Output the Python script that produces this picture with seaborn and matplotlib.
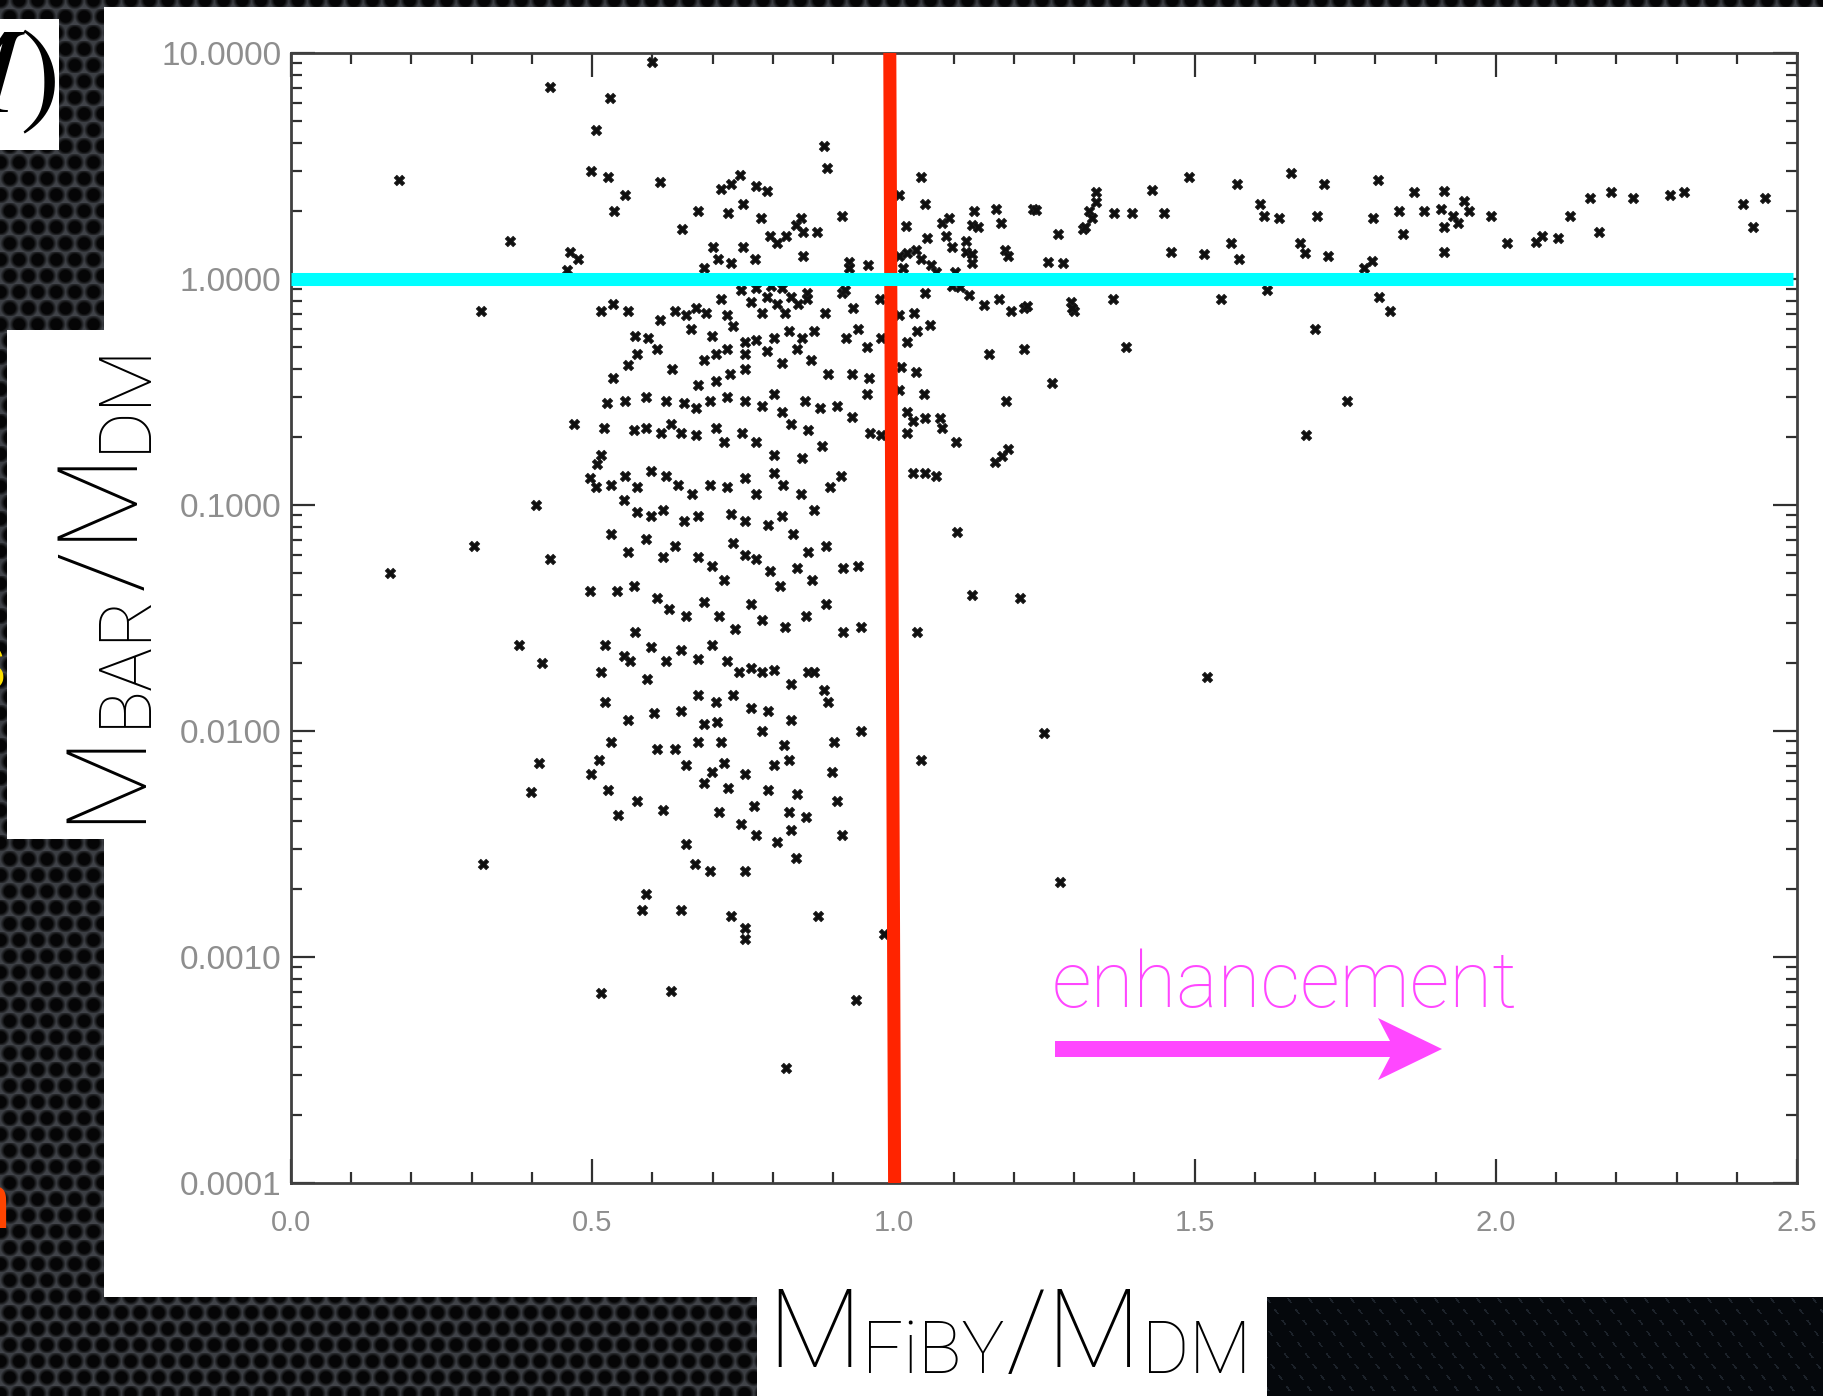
import numpy as np
import matplotlib
matplotlib.use("Agg")
import matplotlib.pyplot as plt
import seaborn as sns
import pandas as pd
from matplotlib.patches import Rectangle, Polygon
from matplotlib.ticker import MultipleLocator, LogLocator, FuncFormatter, NullFormatter

W, H, DPI = 1823, 1396, 100

# (M_FiBY/M_DM, log10 M_BAR/M_DM) for each halo
branch_high_left = [
    (0.18, 0.44), (0.43, 0.85), (0.506, 0.66), (0.53, 0.80), (0.60, 0.96), (0.498, 0.48),
    (0.527, 0.45), (0.537, 0.30), (0.554, 0.37), (0.612, 0.43), (0.363, 0.17), (0.463, 0.12),
    (0.477, 0.09), (0.458, 0.04), (0.649, 0.22), (0.676, 0.30), (0.70, 0.14), (0.709, 0.09),
    (0.714, 0.40), (0.73, 0.42), (0.745, 0.46), (0.772, 0.41), (0.79, 0.39), (0.75, 0.33),
    (0.726, 0.29), (0.78, 0.27), (0.795, 0.19), (0.807, 0.16), (0.822, 0.19), (0.838, 0.24),
    (0.75, 0.14), (0.77, 0.09), (0.73, 0.07), (0.685, 0.05),
    (0.884, 0.59), (0.890, 0.49), (0.915, 0.28), (0.846, 0.27), (0.850, 0.21), (0.874, 0.21),
    (0.850, 0.10), (0.927, 0.075), (0.927, 0.05), (0.958, 0.06),
]

branch_high_right = [
    (1.010, 0.37), (1.045, 0.45), (1.052, 0.33), (1.021, 0.235), (1.010, 0.10), (1.023, 0.115),
    (1.016, 0.05), (1.038, 0.13), (1.046, 0.09), (1.055, 0.18), (1.063, 0.06), (1.071, 0.03),
    (1.081, 0.25), (1.093, 0.27), (1.088, 0.19), (1.098, 0.14), (1.121, 0.17), (1.121, 0.12),
    (1.130, 0.11), (1.130, 0.07), (1.133, 0.30), (1.130, 0.24), (1.140, 0.23), (1.103, 0.03),
    (1.171, 0.31), (1.178, 0.25), (1.186, 0.13), (1.191, 0.10), (1.231, 0.31), (1.236, 0.305),
    (1.256, 0.075), (1.282, 0.07), (1.274, 0.20), (1.314, 0.22), (1.318, 0.23), (1.336, 0.385),
    (1.336, 0.34), (1.324, 0.30), (1.33, 0.27),
    (1.367, 0.29), (1.396, 0.29), (1.43, 0.395), (1.45, 0.29), (1.46, 0.12), (1.49, 0.45),
    (1.515, 0.11), (1.57, 0.42), (1.56, 0.16), (1.573, 0.09), (1.608, 0.33), (1.616, 0.28),
    (1.64, 0.27), (1.66, 0.47), (1.675, 0.16),
    (1.714, 0.42), (1.703, 0.28), (1.683, 0.115), (1.721, 0.10), (1.804, 0.44), (1.796, 0.27),
    (1.839, 0.30), (1.846, 0.20), (1.864, 0.385), (1.880, 0.30), (1.914, 0.39), (1.909, 0.31),
    (1.914, 0.23), (1.929, 0.28), (1.937, 0.25), (1.947, 0.345), (1.955, 0.30), (1.914, 0.12),
    (1.992, 0.28), (2.018, 0.16), (2.066, 0.165), (2.076, 0.19), (2.103, 0.18), (2.123, 0.28),
    (2.156, 0.36), (2.191, 0.385), (2.171, 0.21), (2.228, 0.36), (2.289, 0.37), (2.312, 0.385),
    (2.410, 0.33), (2.427, 0.23), (2.447, 0.36), (1.781, 0.05), (1.794, 0.08), (1.806, -0.08),
    (1.824, -0.14),
]

cloud_right = [
    (1.053, -0.06), (1.098, -0.03), (1.11, -0.035), (1.126, -0.07), (1.151, -0.115),
    (1.176, -0.09), (1.196, -0.14), (1.216, -0.13), (1.294, -0.10), (1.30, -0.14),
    (1.010, -0.16), (1.035, -0.15),
    (1.106, -1.12), (1.168, -0.81), (1.18, -0.785), (1.19, -0.75), (1.104, -0.72), (1.033, -0.86),
    (1.052, -0.86), (1.07, -0.87), (1.023, -0.68), (1.052, -0.615), (1.077, -0.615), (1.08, -0.66),
    (1.158, -0.33), (1.187, -0.54), (1.216, -0.31), (1.222, -0.12), (1.264, -0.46), (1.297, -0.13),
    (1.386, -0.30), (1.365, -0.09), (1.544, -0.09), (1.70, -0.22), (1.753, -0.54), (1.685, -0.69),
    (1.62, -0.05), (1.04, -1.56), (1.046, -2.13), (1.13, -1.40), (1.21, -1.41), (1.25, -2.01),
    (1.276, -2.67), (1.52, -1.76), (1.01, -0.49), (1.023, -0.59), (1.013, -0.39), (1.023, -0.28),
    (1.04, -0.23), (1.06, -0.205), (1.037, -0.41), (1.05, -0.51), (1.033, -0.63),
]

cloud_core = [
    (0.857, -0.06), (0.857, -0.09), (0.887, -0.15), (0.915, -0.06), (0.920, -0.05), (0.933, -0.13),
    (0.977, -0.09),
    (0.515, -0.14), (0.535, -0.11), (0.56, -0.14), (0.571, -0.25), (0.593, -0.26), (0.612, -0.18),
    (0.637, -0.14), (0.656, -0.16), (0.664, -0.22), (0.672, -0.13), (0.689, -0.15), (0.699, -0.25),
    (0.714, -0.09), (0.724, -0.16), (0.734, -0.21), (0.747, -0.05), (0.763, -0.10), (0.772, -0.04),
    (0.782, -0.15), (0.79, -0.08), (0.797, -0.03), (0.807, -0.11), (0.815, -0.04), (0.82, -0.15),
    (0.83, -0.08), (0.842, -0.11),
    (0.979, -0.26), (0.956, -0.30), (0.921, -0.26), (0.942, -0.22), (0.869, -0.23), (0.849, -0.26),
    (0.826, -0.23), (0.801, -0.26), (0.772, -0.27), (0.753, -0.28), (0.724, -0.31), (0.705, -0.33),
    (0.685, -0.36), (0.753, -0.33), (0.79, -0.32), (0.815, -0.37), (0.84, -0.31), (0.863, -0.36),
    (0.892, -0.42), (0.932, -0.42), (0.959, -0.44), (0.956, -0.51), (0.753, -0.40), (0.728, -0.42),
    (0.705, -0.45), (0.676, -0.47), (0.633, -0.40), (0.608, -0.31), (0.575, -0.33), (0.56, -0.38),
    (0.535, -0.44), (0.525, -0.55), (0.554, -0.54), (0.589, -0.52), (0.622, -0.54), (0.653, -0.55),
    (0.672, -0.57), (0.695, -0.54), (0.724, -0.52), (0.753, -0.54), (0.782, -0.56), (0.801, -0.51),
    (0.815, -0.59), (0.83, -0.64), (0.859, -0.67), (0.853, -0.54), (0.878, -0.57), (0.907, -0.56),
    (0.932, -0.61), (0.961, -0.68), (0.979, -0.69), (0.882, -0.74), (0.849, -0.79), (0.801, -0.78),
    (0.772, -0.72), (0.749, -0.68), (0.718, -0.72), (0.705, -0.66), (0.672, -0.69), (0.647, -0.68),
    (0.631, -0.64), (0.614, -0.68), (0.589, -0.66), (0.57, -0.67), (0.469, -0.64), (0.52, -0.66),
    (0.515, -0.78), (0.508, -0.82), (0.496, -0.88), (0.506, -0.92), (0.531, -0.91), (0.554, -0.87),
    (0.575, -0.92), (0.598, -0.85), (0.622, -0.87), (0.643, -0.91), (0.666, -0.95), (0.695, -0.91),
    (0.724, -0.92), (0.753, -0.88), (0.772, -0.95), (0.801, -0.86), (0.817, -0.91), (0.846, -0.95),
    (0.869, -1.02), (0.894, -0.92), (0.913, -0.87), (0.552, -0.98), (0.575, -1.03), (0.598, -1.05),
    (0.618, -1.02), (0.653, -1.07), (0.676, -1.05), (0.73, -1.04), (0.753, -1.07), (0.792, -1.09),
    (0.815, -1.05), (0.834, -1.13), (0.859, -1.21), (0.888, -1.18), (0.531, -1.13), (0.56, -1.21),
    (0.589, -1.15), (0.618, -1.23), (0.637, -1.18), (0.676, -1.23), (0.699, -1.27), (0.718, -1.33),
    (0.734, -1.17), (0.753, -1.22), (0.772, -1.24), (0.795, -1.29), (0.811, -1.36), (0.84, -1.28),
    (0.865, -1.33), (0.917, -1.28), (0.942, -1.27), (0.496, -1.38), (0.541, -1.38), (0.57, -1.36),
    (0.608, -1.41), (0.627, -1.46), (0.656, -1.49), (0.685, -1.43), (0.71, -1.49), (0.737, -1.55),
    (0.763, -1.44), (0.782, -1.51), (0.82, -1.54), (0.855, -1.49), (0.888, -1.44), (0.917, -1.56),
    (0.946, -1.54), (0.521, -1.62), (0.552, -1.67), (0.598, -1.63), (0.622, -1.69), (0.647, -1.64),
    (0.676, -1.68), (0.699, -1.62), (0.724, -1.69), (0.743, -1.74), (0.763, -1.72), (0.782, -1.74),
    (0.801, -1.73), (0.83, -1.79), (0.859, -1.74), (0.676, -1.84), (0.705, -1.87), (0.734, -1.84),
    (0.763, -1.90), (0.792, -1.91), (0.83, -1.95), (0.56, -1.95), (0.531, -2.05), (0.608, -2.08),
    (0.656, -2.15), (0.685, -2.23), (0.753, -2.19), (0.792, -2.26), (0.618, -2.35), (0.772, -2.46),
    (0.807, -2.49), (0.83, -2.44),
    (0.869, -1.74), (0.884, -1.82), (0.892, -1.87), (0.902, -2.05), (0.946, -2.0), (0.898, -2.18),
    (0.907, -2.31), (0.875, -2.82), (0.838, -2.56), (0.915, -2.46), (0.753, -2.87), (0.73, -2.82),
    (0.753, -2.92), (0.647, -2.79), (0.583, -2.79), (0.589, -2.72), (0.656, -2.50), (0.67, -2.59),
    (0.753, -2.62), (0.695, -2.62), (0.575, -2.31), (0.542, -2.37), (0.498, -2.19), (0.512, -2.13),
    (0.527, -2.26), (0.521, -1.87), (0.515, -1.74), (0.562, -1.69), (0.571, -1.56), (0.591, -1.77),
    (0.602, -1.92), (0.647, -1.91), (0.637, -2.08), (0.676, -2.05), (0.685, -1.97), (0.707, -1.96),
    (0.699, -2.18), (0.714, -2.05), (0.718, -2.14), (0.726, -2.25), (0.71, -2.36), (0.747, -2.41),
    (0.768, -2.33), (0.782, -2.0), (0.801, -2.15), (0.819, -2.06), (0.826, -2.13), (0.84, -2.28),
    (0.826, -2.36), (0.855, -2.38),
]

outliers = [
    (0.315, -0.14), (0.164, -1.30), (0.303, -1.18), (0.407, -1.00), (0.43, -1.24), (0.378, -1.62),
    (0.417, -1.70), (0.411, -2.14), (0.398, -2.27), (0.318, -2.59), (0.515, -3.16), (0.631, -3.15),
    (0.822, -3.49), (0.938, -3.19), (0.985, -2.90),
]

x_ticks = [0.0, 0.5, 1.0, 1.5, 2.0, 2.5]
y_ticks = [1e-4, 1e-3, 1e-2, 1e-1, 1.0, 10.0]

halos = pd.DataFrame(branch_high_left + branch_high_right + cloud_right + cloud_core + outliers,
                     columns=["fiby_dm", "log_bar_dm"])
halos["bar_dm"] = 10.0 ** halos["log_bar_dm"]

sns.set_theme(style="white")
plt.rcParams["font.family"] = ["Liberation Sans", "DejaVu Sans"]
plt.rcParams["mathtext.fontset"] = "stix"

fig = plt.figure(figsize=(W / DPI, H / DPI), dpi=DPI)
renderer = fig.canvas.get_renderer()


def fx(px):
    return px / W


def fy(py):
    return 1.0 - py / H


# perforated dark backdrop
yy, xx = np.mgrid[0:H, 0:W].astype(float)
sx, sy = 18.6, 16.2
r = np.round(yy / sy)
off = (r % 2) * sx / 2
dx = xx - (np.round((xx - off) / sx) * sx + off)
dy = yy - r * sy
d = np.hypot(dx, dy)
shade = np.clip((d - 5.5) / 4.0, 0, 1)
bg = np.empty((H, W, 3))
g = 6 + 58 * shade + 8 * np.clip(dy / 9.0, 0, 1) * shade
bg[..., 0] = g * 0.93
bg[..., 1] = g * 0.97
bg[..., 2] = g * 1.05
corner = (xx >= 1267) & (yy >= 1297)
streak = (((xx - 0.7 * yy) % 21) < 2.2) & ((yy % 11) < 5)
bg[corner] = [5, 8, 12]
bg[corner & streak] = [28, 34, 42]
fig.figimage(np.clip(bg, 0, 255).astype(np.uint8), 0, 0, zorder=-3, origin="upper")

# slide fragments peeking in at the left edge
fig.text(fx(7), fy(690), "s", color="#ffe100", fontsize=62, fontweight="bold",
         ha="right", va="baseline", zorder=-2.5)
fig.text(fx(11), fy(1228), "n", color="#ff4400", fontsize=56,
         ha="right", va="baseline", zorder=-2.5)

# white panels
for (x0, y0, x1, y1) in [(104, 7, W, 1297), (7, 330, 110, 839), (757, 1290, 1267, H), (0, 19, 59, 150)]:
    fig.add_artist(Rectangle((fx(x0), fy(y1)), (x1 - x0) / W, (y1 - y0) / H,
                             transform=fig.transFigure, facecolor="white",
                             edgecolor="none", zorder=-2))

fig.text(fx(56), fy(112), r"$M)$", fontsize=88, ha="right", va="baseline",
         color="black", zorder=3)

ax = fig.add_axes([fx(291), fy(1183), (1797 - 291) / W, (1183 - 53) / H])
ax.set_facecolor("white")

sns.scatterplot(data=halos, x="fiby_dm", y="bar_dm", marker="X", s=58, color="#101010",
                edgecolor="#202020", linewidth=0.5, legend=False, ax=ax, zorder=2)

ax.set_yscale("log")
ax.set_xlim(0.0, 2.5)
ax.set_ylim(1e-4, 10.0)

ax.plot([0.994, 1.002], [10.0, 1e-4], color="#ff2400", lw=9.4, solid_capstyle="butt", zorder=3)
ax.plot([0.0, 2.493], [1.0, 1.0], color="#00ffff", lw=9.4, solid_capstyle="butt", zorder=4)

ax.set_xticks(x_ticks)
ax.xaxis.set_minor_locator(MultipleLocator(0.1))
ax.xaxis.set_major_formatter(FuncFormatter(lambda v, p: f"{v:.1f}"))
ax.set_yticks(y_ticks)
ax.yaxis.set_minor_locator(LogLocator(base=10, subs=np.arange(2, 10), numticks=30))
ax.yaxis.set_minor_formatter(NullFormatter())
ax.yaxis.set_major_formatter(FuncFormatter(lambda v, p: f"{v:.4f}"))

ax.tick_params(which="both", direction="in", top=True, right=True, bottom=True, left=True,
               color="#303030", width=1.6, labelcolor="#8e8e8e")
ax.tick_params(axis="x", which="major", labelsize=21, pad=19)
ax.tick_params(axis="y", which="major", labelsize=24, pad=7)
ax.tick_params(which="major", length=17)
ax.tick_params(which="minor", length=8)
for s in ax.spines.values():
    s.set_visible(True)
    s.set_linewidth(2.0)
    s.set_color("#404040")
ax.set_xlabel("")
ax.set_ylabel("")

label_font = ["Roboto", "Open Sans", "DejaVu Sans"]
LABEL_WEIGHT = "light"


def fitted_text(x, y, txt, size, target, **kw):
    t = fig.text(x, y, txt, fontsize=size, **kw)
    w = t.get_window_extent(renderer).width
    t.set_fontsize(size * target / w)
    return t


# enhancement annotation
fitted_text(fx(1052), fy(1007), "enhancement", 55, 465, color="#ff47ff", family=label_font,
            fontweight=LABEL_WEIGHT, ha="left", va="baseline", zorder=5)
arrow_px = [(1055, 1041), (1390, 1041), (1378, 1018), (1442, 1049), (1378, 1080),
            (1390, 1057), (1055, 1057)]
fig.add_artist(Polygon([(fx(px), fy(py)) for px, py in arrow_px], closed=True,
                       transform=fig.transFigure, facecolor="#ff47ff", edgecolor="none", zorder=5))


# axis titles built from plain and subscript pieces
def compose(pieces, big, vertical, start, base, drop):
    made = []
    cursor = start
    for txt, small in pieces:
        size = big * 0.66 if small else big
        shift = drop if small else 0
        if vertical:
            t = fig.text(fx(base + shift), cursor / H, txt, fontsize=size, family=label_font,
                         fontweight=LABEL_WEIGHT, color="black", rotation=90,
                         rotation_mode="anchor", ha="left", va="baseline", zorder=5)
            cursor = t.get_window_extent(renderer).y1 + 1
        else:
            t = fig.text(cursor / W, fy(base + shift), txt, fontsize=size, family=label_font,
                         fontweight=LABEL_WEIGHT, color="black", ha="left", va="baseline",
                         zorder=5)
            cursor = t.get_window_extent(renderer).x1 + 1
        made.append(t)
    return made, cursor - start


def axis_title(pieces, vertical, start, base, drop, length):
    made, span = compose(pieces, 80, vertical, start, base, drop)
    for t in made:
        t.remove()
    compose(pieces, 80 * length / span, vertical, start, base, drop)


axis_title([("M", False), ("FiBY", True), ("/M", False), ("DM", True)],
           False, 767, 1367, 6, 486)
axis_title([("M", False), ("BAR", True), ("/M", False), ("DM", True)],
           True, H - 823, 136, 9, 483)

fig.savefig("out.png", dpi=DPI)
